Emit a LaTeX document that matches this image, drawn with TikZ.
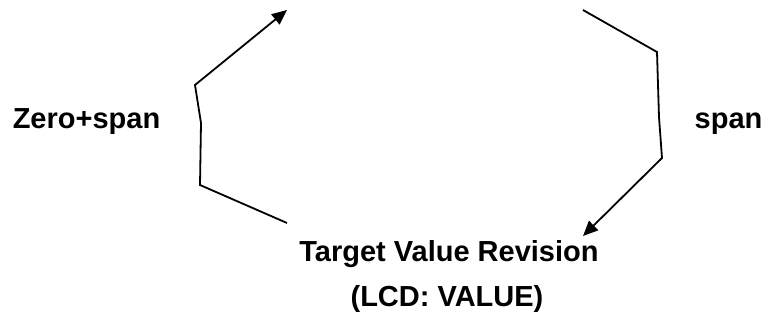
\documentclass[tikz,border=0pt]{standalone}
\usepackage{fontspec}
\setmainfont{Liberation Sans}
\usepackage{tikz}
\usetikzlibrary{arrows.meta, positioning}

\begin{document}
\begin{tikzpicture}[x=1pt, y=-1pt,
                    lbl/.style={font=\fontsize{29}{35}\selectfont\bfseries, inner sep=0pt, anchor=base},
                    loop/.style={-{Triangle[length=15pt, width=13pt]}, line width=1.8pt, line join=miter}]
                    \useasboundingbox (0,0) rectangle (764,324);
                    
                    % Labels
                    \node[lbl] (zerospan) at (86.5, 128) {Zero+span};
                    \node[lbl] (span) at (728.5, 128) {span};
                    \node[lbl] (target) at (449, 261) {Target Value Revision};
                    \node[lbl] (lcd) at (447, 306) {(LCD: VALUE)};
                    
                    % Loop ends
                    \coordinate (lstart) at (287, 223);
                    \coordinate (lend) at (287, 10);
                    \coordinate (rstart) at (583, 10);
                    \coordinate (rend) at (583, 236);
                    
                    % Arrows
                    \draw[loop] (lstart) -- (200, 185) -- (201, 123) -- (195, 85) -- (lend);
                    \draw[loop] (rstart) -- (657, 52) -- (659, 117) -- (662, 158) -- (rend);
                \end{tikzpicture}
\end{document}
